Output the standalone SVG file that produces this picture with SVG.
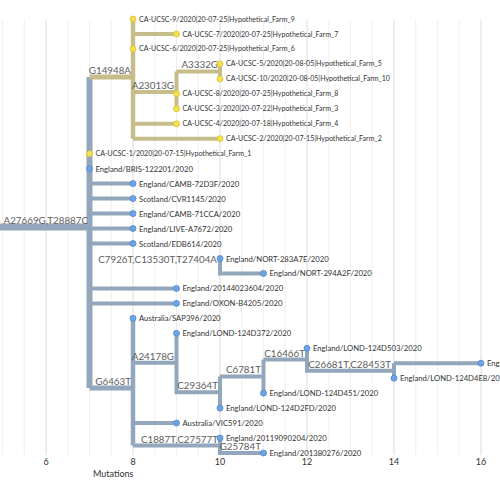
<svg xmlns="http://www.w3.org/2000/svg" width="500" height="485" viewBox="0 0 500 485">
<style>
.grid{stroke:#efefef;stroke-width:1}
.major{stroke:#dcdcdc;stroke-width:1}
.b{fill:none;stroke:#92a6bc;stroke-linecap:butt;stroke-linejoin:miter}
.y{fill:none;stroke:#c6bd8b;stroke-linecap:butt;stroke-linejoin:miter}
.bn{fill:#6ea4e4;stroke:#4d88cf;stroke-width:0.8}
.yn{fill:#f3e24e;stroke:#d8c235;stroke-width:0.8}
.tip{font-family:Lato,"Liberation Sans",sans-serif;font-size:7.7px;fill:#333;dominant-baseline:central}
.ca{font-size:7.05px}
.bl{font-family:Lato,"Liberation Sans",sans-serif;font-size:9.8px;fill:#5e5e5e;text-anchor:end}
.ax{font-family:Lato,"Liberation Sans",sans-serif;font-size:9px;fill:#333}
</style>
<rect width="500" height="485" fill="#fff"/>
<g id="grid">
<line class="grid" x1="2.5" y1="20" x2="2.5" y2="455"/>
<line class="grid" x1="24.25" y1="20" x2="24.25" y2="455"/>
<line class="major" x1="46" y1="20" x2="46" y2="455"/>
<line class="grid" x1="67.75" y1="20" x2="67.75" y2="455"/>
<line class="grid" x1="89.5" y1="20" x2="89.5" y2="455"/>
<line class="grid" x1="111.25" y1="20" x2="111.25" y2="455"/>
<line class="major" x1="133" y1="20" x2="133" y2="455"/>
<line class="grid" x1="154.75" y1="20" x2="154.75" y2="455"/>
<line class="grid" x1="176.5" y1="20" x2="176.5" y2="455"/>
<line class="grid" x1="198.25" y1="20" x2="198.25" y2="455"/>
<line class="major" x1="220" y1="20" x2="220" y2="455"/>
<line class="grid" x1="241.75" y1="20" x2="241.75" y2="455"/>
<line class="grid" x1="263.5" y1="20" x2="263.5" y2="455"/>
<line class="grid" x1="285.25" y1="20" x2="285.25" y2="455"/>
<line class="major" x1="307" y1="20" x2="307" y2="455"/>
<line class="grid" x1="328.75" y1="20" x2="328.75" y2="455"/>
<line class="grid" x1="350.5" y1="20" x2="350.5" y2="455"/>
<line class="grid" x1="372.25" y1="20" x2="372.25" y2="455"/>
<line class="major" x1="394" y1="20" x2="394" y2="455"/>
<line class="grid" x1="415.75" y1="20" x2="415.75" y2="455"/>
<line class="grid" x1="437.5" y1="20" x2="437.5" y2="455"/>
<line class="grid" x1="459.25" y1="20" x2="459.25" y2="455"/>
<line class="major" x1="481" y1="20" x2="481" y2="455"/>
</g>
<g id="axis">
<text class="ax" x="46" y="465" text-anchor="middle">6</text>
<text class="ax" x="133" y="465" text-anchor="middle">8</text>
<text class="ax" x="220" y="465" text-anchor="middle">10</text>
<text class="ax" x="307" y="465" text-anchor="middle">12</text>
<text class="ax" x="394" y="465" text-anchor="middle">14</text>
<text class="ax" x="481" y="465" text-anchor="middle">16</text>
<text class="ax" x="93" y="477">Mutations</text>
</g>
<g id="connectors">
<path class="b" stroke-width="7" d="M0 227H89.5"/>
<path class="b" stroke-width="6" d="M89.5 77V388"/>
<path class="y" stroke-width="5" d="M89.5 77H133"/>
<path class="y" stroke-width="4.5" d="M133 19V138.7"/>
<path class="y" stroke-width="4" d="M133 34H176.5M133 92H176.5M133 123.8H176.5M133 138.7H220"/>
<path class="y" stroke-width="4" d="M176.5 71.4V108.8M176.5 71.4H220M220 63.9V78.9"/>
<path class="b" stroke-width="4" d="M89.5 183.6H133M89.5 198.6H133M89.5 213.6H133M89.5 228.5H133M89.5 243.5H133M89.5 288.4H176.5M89.5 303.4H176.5"/>
<path class="b" stroke-width="4" d="M220 258.5V273.4H263.5"/>
<path class="b" stroke-width="5" d="M89.5 388H133"/>
<path class="b" stroke-width="4.5" d="M133 318.3V445.5"/>
<path class="b" stroke-width="4" d="M133 362.8H176.5M176.5 333.3V392.2H220M220 376.4V408.1M220 376.4H263.5M263.5 359.5V393.2M263.5 359.5H307M307 348.3V370.7H394M394 363.2V378.2M394 363.2H481"/>
<path class="b" stroke-width="4" d="M133 423.1H176.5M133 445.5H220M220 438V453H263.5"/>
</g>
<g id="branch-labels">
<text class="bl" x="88" y="224">A27669G,T28887C</text>
<text class="bl" x="131" y="74">G14948A</text>
<text class="bl" x="174" y="89">A23013G</text>
<text class="bl" x="218" y="68.4">A3332G</text>
<text class="bl" x="217" y="263">C7926T,C13530T,T27404A</text>
<text class="bl" x="131" y="385">G6463T</text>
<text class="bl" x="174" y="360">A24178G</text>
<text class="bl" x="218" y="389">C29364T</text>
<text class="bl" x="261" y="373.4">C6781T</text>
<text class="bl" x="305" y="356.5">C16466T</text>
<text class="bl" x="391" y="367.7">C26681T,C28453T</text>
<text class="bl" x="218" y="442.5">C1887T,C27577T</text>
<text class="bl" x="261" y="450">G25784T</text>
</g>
<g id="n-ca9"><circle class="yn" cx="133" cy="19" r="3"/><text class="tip ca" x="139" y="19">CA-UCSC-9/2020|20-07-25|Hypothetical_Farm_9</text></g>
<g id="n-ca7"><circle class="yn" cx="176.5" cy="34" r="3"/><text class="tip ca" x="182.5" y="34">CA-UCSC-7/2020|20-07-25|Hypothetical_Farm_7</text></g>
<g id="n-ca6"><circle class="yn" cx="133" cy="48.9" r="3"/><text class="tip ca" x="139" y="48.9">CA-UCSC-6/2020|20-07-25|Hypothetical_Farm_6</text></g>
<g id="n-ca5"><circle class="yn" cx="220" cy="63.9" r="3"/><text class="tip ca" x="226" y="63.9">CA-UCSC-5/2020|20-08-05|Hypothetical_Farm_5</text></g>
<g id="n-ca10"><circle class="yn" cx="220" cy="78.9" r="3"/><text class="tip ca" x="226" y="78.9">CA-UCSC-10/2020|20-08-05|Hypothetical_Farm_10</text></g>
<g id="n-ca8"><circle class="yn" cx="176.5" cy="93.8" r="3"/><text class="tip ca" x="182.5" y="93.8">CA-UCSC-8/2020|20-07-25|Hypothetical_Farm_8</text></g>
<g id="n-ca3"><circle class="yn" cx="176.5" cy="108.8" r="3"/><text class="tip ca" x="182.5" y="108.8">CA-UCSC-3/2020|20-07-22|Hypothetical_Farm_3</text></g>
<g id="n-ca4"><circle class="yn" cx="176.5" cy="123.8" r="3"/><text class="tip ca" x="182.5" y="123.8">CA-UCSC-4/2020|20-07-18|Hypothetical_Farm_4</text></g>
<g id="n-ca2"><circle class="yn" cx="220" cy="138.7" r="3"/><text class="tip ca" x="226" y="138.7">CA-UCSC-2/2020|20-07-15|Hypothetical_Farm_2</text></g>
<g id="n-ca1"><circle class="yn" cx="89.5" cy="153.7" r="3"/><text class="tip ca" x="95.5" y="153.7">CA-UCSC-1/2020|20-07-15|Hypothetical_Farm_1</text></g>
<g id="n-bris"><circle class="bn" cx="89.5" cy="168.7" r="3"/><text class="tip" x="95.5" y="168.7">England/BRIS-122201/2020</text></g>
<g id="n-camb72"><circle class="bn" cx="133" cy="183.6" r="3"/><text class="tip" x="139" y="183.6">England/CAMB-72D3F/2020</text></g>
<g id="n-cvr"><circle class="bn" cx="133" cy="198.6" r="3"/><text class="tip" x="139" y="198.6">Scotland/CVR1145/2020</text></g>
<g id="n-camb71"><circle class="bn" cx="133" cy="213.6" r="3"/><text class="tip" x="139" y="213.6">England/CAMB-71CCA/2020</text></g>
<g id="n-live"><circle class="bn" cx="133" cy="228.5" r="3"/><text class="tip" x="139" y="228.5">England/LIVE-A7672/2020</text></g>
<g id="n-edb"><circle class="bn" cx="133" cy="243.5" r="3"/><text class="tip" x="139" y="243.5">Scotland/EDB614/2020</text></g>
<g id="n-nort283"><circle class="bn" cx="220" cy="258.5" r="3"/><text class="tip" x="226" y="258.5">England/NORT-283A7E/2020</text></g>
<g id="n-nort294"><circle class="bn" cx="263.5" cy="273.4" r="3"/><text class="tip" x="269.5" y="273.4">England/NORT-294A2F/2020</text></g>
<g id="n-2014"><circle class="bn" cx="176.5" cy="288.4" r="3"/><text class="tip" x="182.5" y="288.4">England/20144023604/2020</text></g>
<g id="n-oxon"><circle class="bn" cx="176.5" cy="303.4" r="3"/><text class="tip" x="182.5" y="303.4">England/OXON-B4205/2020</text></g>
<g id="n-sap"><circle class="bn" cx="133" cy="318.3" r="3"/><text class="tip" x="139" y="318.3">Australia/SAP396/2020</text></g>
<g id="n-d372"><circle class="bn" cx="176.5" cy="333.3" r="3"/><text class="tip" x="182.5" y="333.3">England/LOND-124D372/2020</text></g>
<g id="n-d503"><circle class="bn" cx="307" cy="348.3" r="3"/><text class="tip" x="313" y="348.3">England/LOND-124D503/2020</text></g>
<g id="n-far"><circle class="bn" cx="481" cy="363.2" r="3"/><text class="tip" x="487" y="363.2">England/LOND-124D4E6/2020</text></g>
<g id="n-d4e8"><circle class="bn" cx="394" cy="378.2" r="3"/><text class="tip" x="400" y="378.2">England/LOND-124D4E8/2020</text></g>
<g id="n-d451"><circle class="bn" cx="263.5" cy="393.2" r="3"/><text class="tip" x="269.5" y="393.2">England/LOND-124D451/2020</text></g>
<g id="n-d2fd"><circle class="bn" cx="220" cy="408.1" r="3"/><text class="tip" x="226" y="408.1">England/LOND-124D2FD/2020</text></g>
<g id="n-vic"><circle class="bn" cx="176.5" cy="423.1" r="3"/><text class="tip" x="182.5" y="423.1">Australia/VIC591/2020</text></g>
<g id="n-2011"><circle class="bn" cx="220" cy="438" r="3"/><text class="tip" x="226" y="438">England/20119090204/2020</text></g>
<g id="n-2013"><circle class="bn" cx="263.5" cy="453" r="3"/><text class="tip" x="269.5" y="453">England/201380276/2020</text></g>
</svg>
